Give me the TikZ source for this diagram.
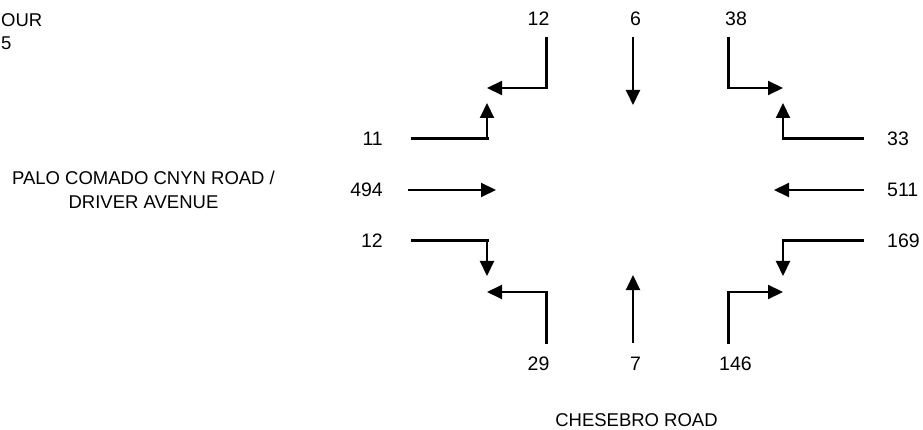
\documentclass[tikz,border=0pt]{standalone}
\usepackage{fontspec}
\setmainfont{Liberation Sans}
\usetikzlibrary{arrows.meta}

\tikzset{
  lbl/.style={inner sep=0pt, font=\fontsize{18.5}{24}\selectfont},
  vol/.style={inner sep=0pt, font=\fontsize{19.5}{24}\selectfont},
  turnleg/.style={line width=3pt, line cap=rect},
  flow/.style={line width=2pt, -{Triangle[length=15pt,width=14pt]}},
}

\begin{document}
\begin{tikzpicture}[x=1pt,y=-1pt]
\useasboundingbox (0,0) rectangle (923,430);

% corner text
\node[lbl, anchor=base west] (hdrA) at (1,27) {OUR};
\node[lbl, anchor=base west] (hdrB) at (1,49.5) {5};

% street names
\node[lbl, anchor=base] (eastwestA) at (143.5,184.6) {PALO COMADO CNYN ROAD /};
\node[lbl, anchor=base] (eastwestB) at (143.5,208.6) {DRIVER AVENUE};
\node[lbl, anchor=base] (northsouth) at (636.5,426.6) {CHESEBRO ROAD};

% volumes, north approach
\node[vol, anchor=base] (nR) at (538.5,26) {12};
\node[vol, anchor=base] (nT) at (635.5,26) {6};
\node[vol, anchor=base] (nL) at (736,26) {38};
% volumes, west approach
\node[vol, anchor=base east] (wL) at (383,145.6) {11};
\node[vol, anchor=base east] (wT) at (383,196.6) {494};
\node[vol, anchor=base east] (wR) at (383,247.6) {12};
% volumes, east approach
\node[vol, anchor=base west] (eR) at (887,145.6) {33};
\node[vol, anchor=base west] (eT) at (887,196.6) {511};
\node[vol, anchor=base west] (eL) at (887,247.6) {169};
% volumes, south approach
\node[vol, anchor=base] (sL) at (538.5,370) {29};
\node[vol, anchor=base] (sT) at (635.5,370) {7};
\node[vol, anchor=base] (sR) at (735.5,370) {146};

% movement geometry
\coordinate (nRa) at (546,39);  \coordinate (nRb) at (546,88);  \coordinate (nRc) at (487,88);
\coordinate (nTa) at (633,37);  \coordinate (nTc) at (633,105);
\coordinate (nLa) at (728,39);  \coordinate (nLb) at (728,88);  \coordinate (nLc) at (783,88);

\coordinate (wLa) at (412,139); \coordinate (wLb) at (487,139); \coordinate (wLc) at (487,103);
\coordinate (wTa) at (408,190); \coordinate (wTc) at (496,190);
\coordinate (wRa) at (412,241); \coordinate (wRb) at (487,241); \coordinate (wRc) at (487,276);

\coordinate (eRa) at (862,139); \coordinate (eRb) at (783,139); \coordinate (eRc) at (783,103);
\coordinate (eTa) at (864,190); \coordinate (eTc) at (774,190);
\coordinate (eLa) at (862,241); \coordinate (eLb) at (783,241); \coordinate (eLc) at (783,276);

\coordinate (sLa) at (546,342); \coordinate (sLb) at (546,292); \coordinate (sLc) at (487,292);
\coordinate (sTa) at (633,343); \coordinate (sTc) at (633,275);
\coordinate (sRa) at (728,342); \coordinate (sRb) at (728,292); \coordinate (sRc) at (783,292);

% turning movements: heavy leg, then arrow
\foreach \m in {nR,nL,wL,wR,eR,eL,sL,sR}{
  \draw[turnleg] (\m a) -- (\m b);
  \draw[flow] (\m b) -- (\m c);
}
% through movements
\foreach \m in {nT,wT,eT,sT}{
  \draw[flow] (\m a) -- (\m c);
}
\end{tikzpicture}
\end{document}
